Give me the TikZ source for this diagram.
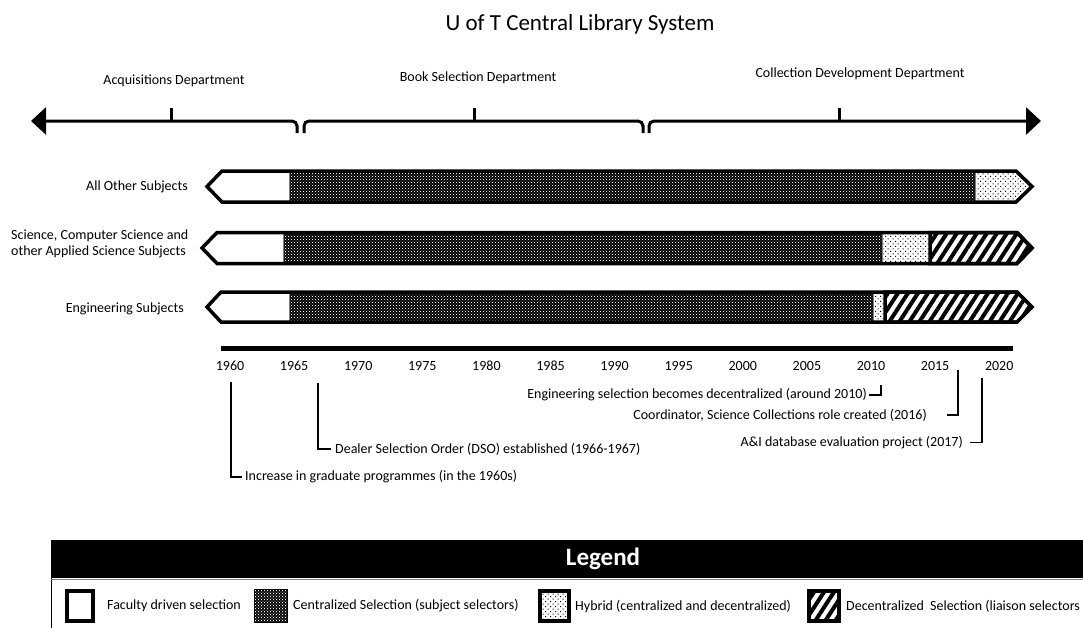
\documentclass[tikz,border=0pt]{standalone}
\usepackage{fontspec}
\setmainfont{Carlito}
\usetikzlibrary{patterns,patterns.meta,arrows.meta}

\pgfdeclarepatternformonly{darkdots}{\pgfqpoint{-0.1pt}{-0.1pt}}{\pgfqpoint{3.1pt}{3.1pt}}{\pgfqpoint{3pt}{3pt}}{%
 \pgfpathrectangle{\pgfqpoint{0pt}{0pt}}{\pgfqpoint{0.8pt}{0.8pt}}%
 \pgfpathrectangle{\pgfqpoint{1.5pt}{1.5pt}}{\pgfqpoint{0.8pt}{0.8pt}}%
 \pgfusepath{fill}}
\pgfdeclarepatternformonly{hybdots}{\pgfqpoint{-0.1pt}{-0.1pt}}{\pgfqpoint{5.1pt}{5.1pt}}{\pgfqpoint{5pt}{5pt}}{%
 \pgfpathrectangle{\pgfqpoint{0pt}{0pt}}{\pgfqpoint{1pt}{1pt}}%
 \pgfpathrectangle{\pgfqpoint{2.5pt}{2.5pt}}{\pgfqpoint{1pt}{1pt}}%
 \pgfusepath{fill}}

\tikzset{
 lbl/.style={font=\fontsize{14}{15.7}\selectfont, inner sep=0pt},
 outl/.style={draw=black, line width=3.5pt, line join=miter},
 darkseg/.style={preaction={fill=black}, pattern=darkdots, pattern color=white},
 hybseg/.style={preaction={fill=white}, pattern=hybdots, pattern color=black},
 hatchseg/.style={preaction={fill=white}, pattern={Lines[angle=57,distance=8.4pt,line width=4pt]}, pattern color=black},
 brace/.style={line width=3pt, rounded corners=5pt},
 tickmark/.style={line width=3pt},
 sepline/.style={draw=gray, line width=1pt},
 conn/.style={draw=black, line width=1.1pt},
 bigarrow/.style={-{Triangle[length=15pt,width=27pt]}},
}

\begin{document}
\begin{tikzpicture}[x=1pt,y=-1pt]
\useasboundingbox (0,0) rectangle (1083,627);
\clip (0,0) rectangle (1083,627);

% title
\node[inner sep=0pt, font=\fontsize{23}{27}\selectfont] (title) at (580,24) {U of T Central Library System};

% department labels
\node[lbl] (acq) at (174,81) {Acquisitions Department};
\node[lbl] (book) at (478,77.5) {Book Selection Department};
\node[lbl] (coll) at (860,74) {Collection Development Department};

% top braces / arrow
\coordinate (la) at (31,121);
\coordinate (ra) at (1041,121);
\draw[brace, {Triangle[length=15pt,width=27pt]}-] (la) -- (297,121) -- (297,133);
\draw[brace] (304,133) -- (304,121) -- (643,121) -- (643,133);
\draw[brace, bigarrow] (649,133) -- (649,121) -- (ra);
\draw[tickmark] (171,122) -- (171,108);
\draw[tickmark] (474,122) -- (474,108);
\draw[tickmark] (839,122) -- (839,108);

% row labels
\node[lbl, anchor=east] (r1) at (188,186.5) {All Other Subjects};
\node[lbl, anchor=west, align=left] (r2) at (11,244) {Science, Computer Science and\\other Applied Science Subjects};
\node[lbl, anchor=east] (r3) at (184,309) {Engineering Subjects};

% row 1
\path[fill=white] (207,186.5) -- (222,171) -- (1016,171) -- (1032,186.5) -- (1016,202) -- (222,202) -- cycle;
\path[darkseg] (289,171) rectangle (975,202);
\path[hybseg] (975,171) -- (1016,171) -- (1032,186.5) -- (1016,202) -- (975,202) -- cycle;
\draw[sepline] (289,172) -- (289,201);
\draw[sepline] (975,172) -- (975,201);
\draw[outl] (207,186.5) -- (222,171) -- (1016,171) -- (1032,186.5) -- (1016,202) -- (222,202) -- cycle;

% row 2
\path[fill=white] (202,248) -- (217,232.5) -- (1017,232.5) -- (1032,248) -- (1017,263.5) -- (217,263.5) -- cycle;
\path[darkseg] (283,232.5) rectangle (882,263.5);
\path[hybseg] (882,232.5) rectangle (929,263.5);
\draw[sepline] (283,233.5) -- (283,262.5);
\draw[sepline] (882,233.5) -- (882,262.5);
\draw[outl, hatchseg] (930,232.5) -- (1017,232.5) -- (1032,248) -- (1017,263.5) -- (930,263.5) -- cycle;
\draw[outl] (202,248) -- (217,232.5) -- (1017,232.5) -- (1032,248) -- (1017,263.5) -- (217,263.5) -- cycle;

% row 3
\path[fill=white] (207,307) -- (221,292) -- (1017,292) -- (1032,307) -- (1017,322) -- (221,322) -- cycle;
\path[darkseg] (289,292) rectangle (873,322);
\path[hybseg] (873,292) rectangle (884,322);
\draw[sepline] (289,293) -- (289,321);
\draw[sepline] (873,293) -- (873,321);
\draw[outl, hatchseg] (885,292) -- (1017,292) -- (1032,307) -- (1017,322) -- (885,322) -- cycle;
\draw[outl] (207,307) -- (221,292) -- (1017,292) -- (1032,307) -- (1017,322) -- (221,322) -- cycle;

% timeline
\coordinate (tl0) at (221,348);
\coordinate (tl1) at (1013,348);
\draw[line width=5pt] (tl0) -- (tl1);
\foreach \i in {0,...,12}{
  \pgfmathtruncatemacro{\yr}{1960+5*\i}
  \node[lbl] (y\yr) at ({230+64.1*\i},366) {\yr};
}

% annotations
\node[lbl, anchor=east] (a1) at (867,395) {Engineering selection becomes decentralized (around 2010)};
\coordinate (e1) at (881,385);
\draw[conn] ([xshift=2pt]a1.east) -| (e1);
\node[lbl, anchor=east] (a2) at (927,415) {Coordinator, Science Collections role created (2016)};
\coordinate (e2) at (958,370);
\draw[conn] ([xshift=20pt]a2.east) -| (e2);
\node[lbl, anchor=east] (a3) at (963,442.5) {A\&I database evaluation project (2017)};
\coordinate (e3) at (982,378);
\draw[conn] ([xshift=7pt]a3.east) -| (e3);
\node[lbl, anchor=west] (a4) at (335,449) {Dealer Selection Order (DSO) established (1966-1967)};
\coordinate (e4) at (318,383);
\draw[conn] ([xshift=-4pt]a4.west) -| (e4);
\node[lbl, anchor=west] (a5) at (245,477) {Increase in graduate programmes (in the 1960s)};
\coordinate (e5) at (231,382);
\draw[conn] ([xshift=-3pt]a5.west) -| (e5);

% legend
\fill[black] (51,540) rectangle (1100,578);
\draw[line width=1pt] (51,540) -- (51,640);
\draw[gray, line width=1.2pt] (51,579.5) -- (1100,579.5);
\node[inner sep=0pt, text=white, font=\bfseries\fontsize{25}{28}\selectfont] (leg) at (603,559) {Legend};

\draw[line width=4pt, fill=white] (67.4,591) rectangle (92.7,621);
\node[lbl, anchor=west] (l1) at (107,606) {Faculty driven selection};
\path[darkseg, draw=black, line width=0.8pt] (254.4,589.4) rectangle (287.1,622.6);
\node[lbl, anchor=west] (l2) at (293,606) {Centralized Selection (subject selectors)};
\draw[line width=4pt, hybseg] (540,591) rectangle (569,621);
\node[lbl, anchor=west] (l3) at (575,606) {Hybrid (centralized and decentralized)};
\draw[line width=4pt, hatchseg] (809,591) rectangle (838.5,621);
\node[lbl, anchor=west] (l4) at (846,606) {Decentralized\ \ Selection (liaison selectors};
\end{tikzpicture}
\end{document}
